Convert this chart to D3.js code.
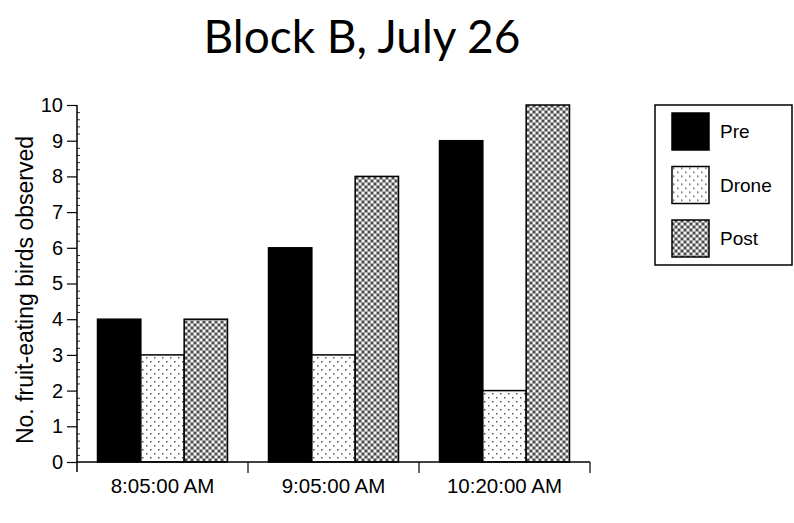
<!DOCTYPE html>
<html><head><meta charset="utf-8">
<script src="https://cdn.jsdelivr.net/npm/d3@7"></script>
<style>body{margin:0;background:#fff}svg{display:block}</style>
</head><body>
<script>
const categories = ["8:05:00 AM", "9:05:00 AM", "10:20:00 AM"];
const seriesNames = ["Pre", "Drone", "Post"];
const pre = [4, 6, 9];
const drone = [3, 3, 2];
const post = [4, 8, 10];
const yTicks = [0,1,2,3,4,5,6,7,8,9,10];
const title = "Block B, July 26";
const yLabel = "No. fruit-eating birds observed";

const W = 794, H = 523;
const svg = d3.select("body").append("svg").attr("width", W).attr("height", H);
const defs = svg.append("defs");
// Drone: sparse staggered dots
const pd = defs.append("pattern").attr("id","pDrone").attr("patternUnits","userSpaceOnUse").attr("width",8).attr("height",8);
pd.append("rect").attr("width",8).attr("height",8).attr("fill","#fff");
pd.append("rect").attr("x",1).attr("y",1).attr("width",1.5).attr("height",1.5).attr("fill","#555");
pd.append("rect").attr("x",5).attr("y",5).attr("width",1.5).attr("height",1.5).attr("fill","#555");
// Post: dense checker weave
const pp = defs.append("pattern").attr("id","pPost").attr("patternUnits","userSpaceOnUse").attr("width",6).attr("height",6);
pp.append("rect").attr("width",6).attr("height",6).attr("fill","#a4a4a4");
pp.append("rect").attr("x",0).attr("y",0).attr("width",2).attr("height",2).attr("fill","#f4f4f4");
pp.append("rect").attr("x",3).attr("y",3).attr("width",2).attr("height",2).attr("fill","#f4f4f4");
pp.append("rect").attr("x",3).attr("y",0).attr("width",2).attr("height",2).attr("fill","#4a4a4a");
pp.append("rect").attr("x",0).attr("y",3).attr("width",2).attr("height",2).attr("fill","#4a4a4a");

const fills = {"Pre":"#000","Drone":"url(#pDrone)","Post":"url(#pPost)"};
const data = categories.map((c,i)=>({cat:c, vals:[{k:"Pre",v:pre[i]},{k:"Drone",v:drone[i]},{k:"Post",v:post[i]}]}));

const x0 = d3.scaleBand().domain(categories).range([77, 590]).paddingInner(0).paddingOuter(0);
const x1 = d3.scaleBand().domain(seriesNames).range([20.5, x0.bandwidth()-20.5]).padding(0);
const y = d3.scaleLinear().domain([0,10]).range([462, 105]);

// title
svg.append("text").attr("x", 362).attr("y", 53).attr("text-anchor","middle")
  .attr("font-family","Lato, 'Open Sans', sans-serif").attr("font-size", 46).attr("fill","#000").text(title);

// bars
const g = svg.append("g");
const groups = g.selectAll("g.grp").data(data).join("g").attr("class","grp")
  .attr("transform", d=>`translate(${x0(d.cat)},0)`);
groups.selectAll("rect").data(d=>d.vals).join("rect")
  .attr("x", d=>x1(d.k)).attr("width", x1.bandwidth())
  .attr("y", d=>y(d.v)).attr("height", d=>y(0)-y(d.v))
  .attr("fill", d=>fills[d.k]).attr("stroke","#000").attr("stroke-width",1.5);

// y axis major
const yAxis = svg.append("g").attr("transform","translate(77,0)")
  .call(d3.axisLeft(y).tickValues(yTicks).tickSize(10).tickPadding(4).tickFormat(d3.format("d")));
yAxis.select(".domain").attr("stroke","#000").attr("stroke-width",1.5).attr("d","M0,105V472");
yAxis.selectAll(".tick line").attr("stroke","#000").attr("stroke-width",1.2);
yAxis.selectAll("text").attr("font-family","'Liberation Sans', Arial, sans-serif").attr("font-size",20).attr("fill","#000");
// minor ticks
const minor = d3.range(0, 10.01, 0.2).filter(v=>Math.abs(v-Math.round(v))>0.01);
svg.append("g").attr("transform","translate(77,0)")
  .call(d3.axisRight(y).tickValues(minor).tickSize(3).tickFormat(""))
  .call(s=>s.select(".domain").remove())
  .selectAll("line").attr("stroke","#000").attr("stroke-width",0.8);

// x axis
const xAxis = svg.append("g").attr("transform","translate(0,462)")
  .call(d3.axisBottom(x0).tickSize(0).tickPadding(16));
xAxis.select(".domain").attr("stroke","#000").attr("stroke-width",1.5).attr("d","M77,0H590");
xAxis.selectAll("text").attr("font-family","'Liberation Sans', Arial, sans-serif").attr("font-size",20.5).attr("fill","#000");
// category divider ticks
const edges = categories.map(c=>x0(c)).slice(1).concat([x0(categories[categories.length-1])+x0.bandwidth()]);
xAxis.selectAll("line.div").data(edges).join("line").attr("class","div")
  .attr("x1",d=>d).attr("x2",d=>d).attr("y1",0).attr("y2",11).attr("stroke","#000").attr("stroke-width",1.2);

// y label
svg.append("text").attr("transform","translate(33,290) rotate(-90)").attr("text-anchor","middle")
  .attr("font-family","'Liberation Sans', Arial, sans-serif").attr("font-size",23).attr("fill","#000").text(yLabel);

// legend
const lg = svg.append("g");
lg.append("rect").attr("x",655).attr("y",105).attr("width",137).attr("height",160).attr("fill","#fff").attr("stroke","#000").attr("stroke-width",1.5);
const items = lg.selectAll("g.it").data(seriesNames).join("g").attr("class","it")
  .attr("transform",(d,i)=>`translate(672,${113 + i*53.5})`);
items.append("rect").attr("width",37).attr("height",37).attr("fill",d=>fills[d]).attr("stroke","#000").attr("stroke-width",1.5);
items.append("text").attr("x",48).attr("y",25).attr("font-family","'Liberation Sans', Arial, sans-serif").attr("font-size",19).attr("fill","#000").text(d=>d);
</script>
</body></html>
